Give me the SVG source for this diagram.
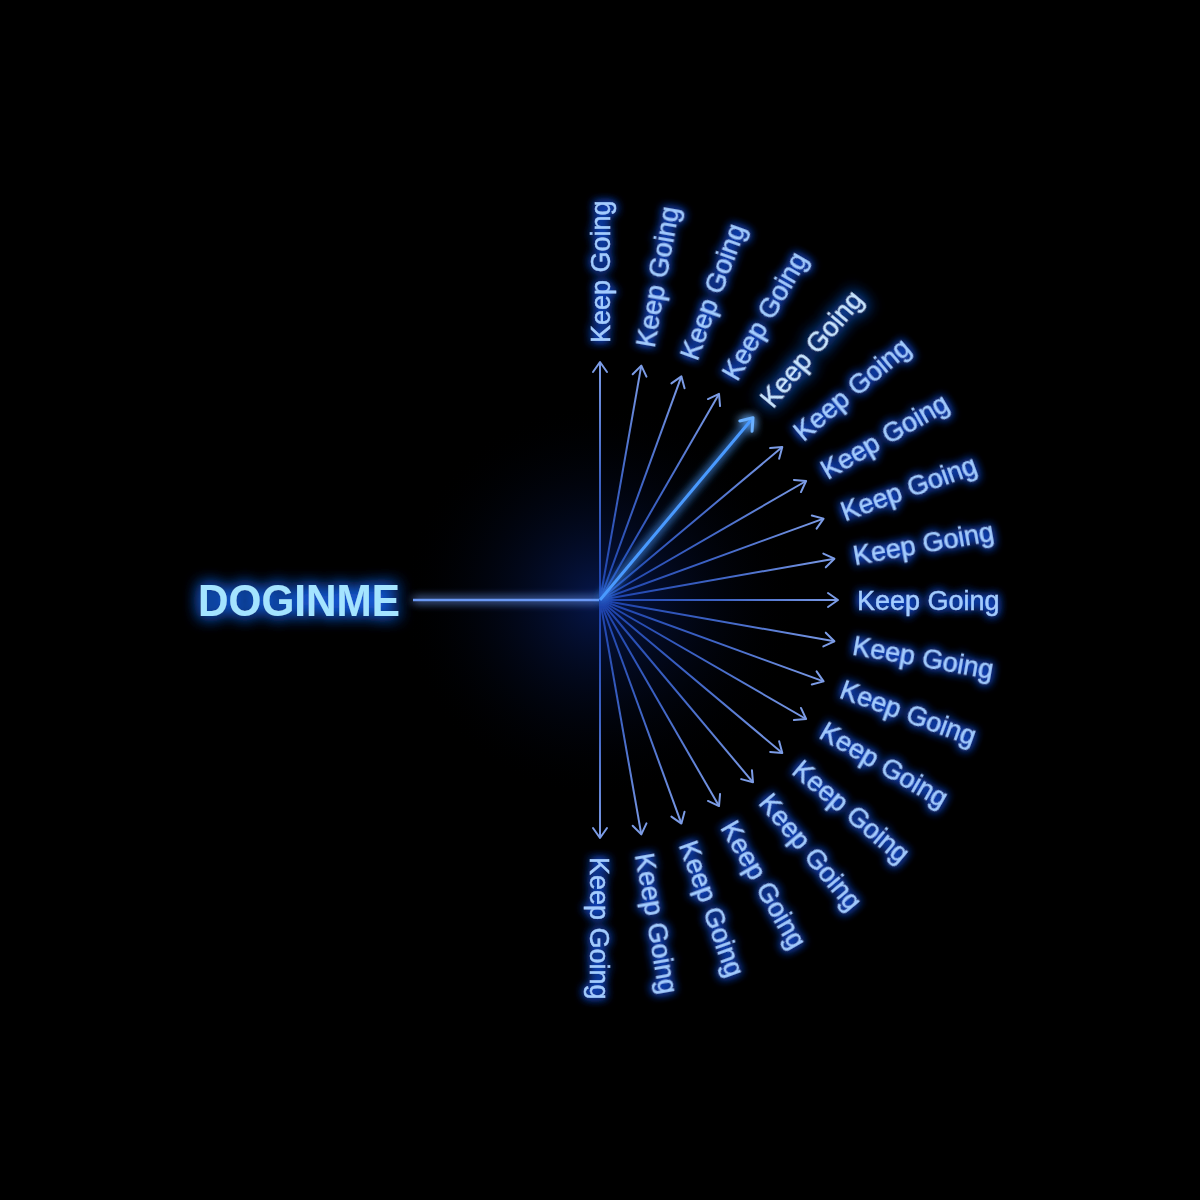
<svg xmlns="http://www.w3.org/2000/svg" width="1200" height="1200" viewBox="0 0 1200 1200">
<defs>
<style>
.lbl{font-family:"Liberation Sans","DejaVu Sans",Arial,sans-serif;font-size:27px;fill:#a2ccff;stroke:#a2ccff;stroke-width:0.4;filter:url(#glowText)}
.hl{fill:#c8e6ff;stroke:#c8e6ff;filter:url(#glowHi)}
.ray{stroke:url(#rayGrad);stroke-width:2;fill:none;marker-end:url(#arr)}
.root{font-family:"Liberation Sans","DejaVu Sans",Arial,sans-serif;font-size:44px;font-weight:bold;fill:#a4e4ff;filter:url(#glowHi)}
</style>
<radialGradient id="rayGrad" gradientUnits="userSpaceOnUse" cx="600" cy="600" r="240">
<stop offset="0" stop-color="#1a3fa8"/>
<stop offset="0.5" stop-color="#3e63c4"/>
<stop offset="1" stop-color="#7d9ce6"/>
</radialGradient>
<marker id="arr" markerUnits="userSpaceOnUse" markerWidth="20" markerHeight="20" viewBox="-12 -10 14 20" refX="0" refY="0" orient="auto">
<path d="M-10,-7 L0,0 L-10,7" fill="none" stroke="#7c9ce6" stroke-width="2" stroke-linecap="round" stroke-linejoin="round"/>
</marker>
<marker id="arrHi" markerUnits="userSpaceOnUse" markerWidth="24" markerHeight="24" viewBox="-14 -12 16 24" refX="0" refY="0" orient="auto">
<path d="M-11,-8 L0,0 L-11,8" fill="none" stroke="#6ab0ff" stroke-width="3" stroke-linecap="round" stroke-linejoin="round"/>
</marker>
<filter id="glowText" x="-30%" y="-60%" width="160%" height="220%">
<feGaussianBlur in="SourceAlpha" stdDeviation="5" result="b"/>
<feFlood flood-color="#1f5cff" flood-opacity="1"/>
<feComposite in2="b" operator="in" result="g"/>
<feMerge><feMergeNode in="g"/><feMergeNode in="g"/><feMergeNode in="SourceGraphic"/></feMerge>
</filter>
<filter id="glowHi" x="-40%" y="-100%" width="180%" height="300%">
<feGaussianBlur in="SourceAlpha" stdDeviation="8" result="b"/>
<feFlood flood-color="#1d6bff" flood-opacity="1"/>
<feComposite in2="b" operator="in" result="g"/>
<feMerge><feMergeNode in="g"/><feMergeNode in="g"/><feMergeNode in="SourceGraphic"/></feMerge>
</filter>
<filter id="glowLine" filterUnits="userSpaceOnUse" x="0" y="0" width="1200" height="1200">
<feGaussianBlur in="SourceGraphic" stdDeviation="5" result="b"/>
<feMerge><feMergeNode in="b"/><feMergeNode in="b"/><feMergeNode in="SourceGraphic"/></feMerge>
</filter>
<radialGradient id="halo" cx="600" cy="600" r="200" gradientUnits="userSpaceOnUse">
<stop offset="0" stop-color="#0b2a8a" stop-opacity="0.55"/>
<stop offset="1" stop-color="#000" stop-opacity="0"/>
</radialGradient>
</defs>
<rect width="1200" height="1200" fill="#000"/>
<circle cx="600" cy="600" r="200" fill="url(#halo)"/>
<g id="connectors">
<line x1="413" y1="600" x2="600" y2="600" stroke="#6a98f4" stroke-width="2.5" filter="url(#glowLine)"/>
<line class="ray" x1="600" y1="600" x2="600" y2="362"/>
<line class="ray" x1="600" y1="600" x2="641.3" y2="365.6"/>
<line class="ray" x1="600" y1="600" x2="681.4" y2="376.4"/>
<line class="ray" x1="600" y1="600" x2="719" y2="393.9"/>
<line class="ray" x1="600" y1="600" x2="782.3" y2="447"/>
<line class="ray" x1="600" y1="600" x2="806.1" y2="481"/>
<line class="ray" x1="600" y1="600" x2="823.6" y2="518.6"/>
<line class="ray" x1="600" y1="600" x2="834.4" y2="558.7"/>
<line class="ray" x1="600" y1="600" x2="838" y2="600"/>
<line class="ray" x1="600" y1="600" x2="834.4" y2="641.3"/>
<line class="ray" x1="600" y1="600" x2="823.6" y2="681.4"/>
<line class="ray" x1="600" y1="600" x2="806.1" y2="719"/>
<line class="ray" x1="600" y1="600" x2="782.3" y2="753"/>
<line class="ray" x1="600" y1="600" x2="753" y2="782.3"/>
<line class="ray" x1="600" y1="600" x2="719" y2="806.1"/>
<line class="ray" x1="600" y1="600" x2="681.4" y2="823.6"/>
<line class="ray" x1="600" y1="600" x2="641.3" y2="834.4"/>
<line class="ray" x1="600" y1="600" x2="600" y2="838"/>
<line x1="600" y1="600" x2="753" y2="417.7" stroke="#4a9aff" stroke-width="3" filter="url(#glowLine)" marker-end="url(#arrHi)"/>
</g>
<g id="root"><text class="root" x="198" y="616" textLength="202" lengthAdjust="spacingAndGlyphs">DOGINME</text></g>
<g id="n-90"><text class="lbl" x="857" y="610" transform="rotate(-90 600 600)">Keep Going</text></g>
<g id="n-80"><text class="lbl" x="857" y="610" transform="rotate(-80 600 600)">Keep Going</text></g>
<g id="n-70"><text class="lbl" x="857" y="610" transform="rotate(-70 600 600)">Keep Going</text></g>
<g id="n-60"><text class="lbl" x="857" y="610" transform="rotate(-60 600 600)">Keep Going</text></g>
<g id="n-50"><text class="lbl hl" x="857" y="610" transform="rotate(-50 600 600)">Keep Going</text></g>
<g id="n-40"><text class="lbl" x="857" y="610" transform="rotate(-40 600 600)">Keep Going</text></g>
<g id="n-30"><text class="lbl" x="857" y="610" transform="rotate(-30 600 600)">Keep Going</text></g>
<g id="n-20"><text class="lbl" x="857" y="610" transform="rotate(-20 600 600)">Keep Going</text></g>
<g id="n-10"><text class="lbl" x="857" y="610" transform="rotate(-10 600 600)">Keep Going</text></g>
<g id="n0"><text class="lbl" x="857" y="610">Keep Going</text></g>
<g id="n10"><text class="lbl" x="857" y="610" transform="rotate(10 600 600)">Keep Going</text></g>
<g id="n20"><text class="lbl" x="857" y="610" transform="rotate(20 600 600)">Keep Going</text></g>
<g id="n30"><text class="lbl" x="857" y="610" transform="rotate(30 600 600)">Keep Going</text></g>
<g id="n40"><text class="lbl" x="857" y="610" transform="rotate(40 600 600)">Keep Going</text></g>
<g id="n50"><text class="lbl" x="857" y="610" transform="rotate(50 600 600)">Keep Going</text></g>
<g id="n60"><text class="lbl" x="857" y="610" transform="rotate(60 600 600)">Keep Going</text></g>
<g id="n70"><text class="lbl" x="857" y="610" transform="rotate(70 600 600)">Keep Going</text></g>
<g id="n80"><text class="lbl" x="857" y="610" transform="rotate(80 600 600)">Keep Going</text></g>
<g id="n90"><text class="lbl" x="857" y="610" transform="rotate(90 600 600)">Keep Going</text></g>
</svg>
